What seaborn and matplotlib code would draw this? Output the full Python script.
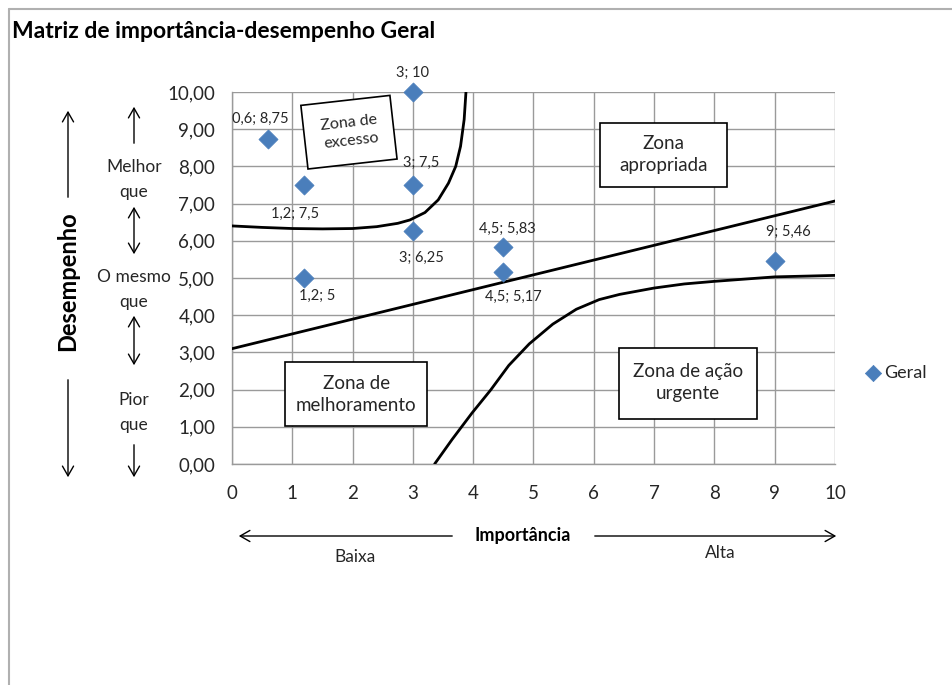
import matplotlib
matplotlib.use("Agg")
import matplotlib.pyplot as plt
from matplotlib.patches import Rectangle, FancyArrowPatch
from matplotlib.lines import Line2D
import seaborn as sns
import pandas as pd

# --- data -------------------------------------------------------------
importancia = [0.6, 1.2, 1.2, 3, 3, 3, 4.5, 4.5, 9]
desempenho = [8.75, 7.5, 5, 10, 7.5, 6.25, 5.83, 5.17, 5.46]

x_ticks = list(range(0, 11))
y_ticks = list(range(0, 11))

# zone boundaries
excesso_x = [0, 0.5, 1.0, 1.5, 2.0, 2.4, 2.75, 2.95, 3.2, 3.42, 3.59, 3.71, 3.79, 3.85, 3.88]
excesso_y = [6.4, 6.36, 6.33, 6.32, 6.33, 6.38, 6.47, 6.56, 6.76, 7.1, 7.55, 8.0, 8.54, 9.26, 10.0]

reta_x = [0, 10]
reta_y = [3.1, 7.07]

urgente_x = [3.36, 3.65, 3.98, 4.29, 4.59, 4.93, 5.32, 5.71, 6.09, 6.43, 7.0, 7.5, 8.0, 9.0, 10.0]
urgente_y = [0.0, 0.66, 1.37, 1.99, 2.65, 3.23, 3.76, 4.16, 4.42, 4.56, 4.73, 4.84, 4.91, 5.03, 5.07]

def fmt(v):
    return f"{v:g}".replace(".", ",")

rotulos = [f"{fmt(a)}; {fmt(b)}" for a, b in zip(importancia, desempenho)]
# label offsets from each marker, in points (dx, dy)
offsets = [(-6, 14), (-7, -21), (9, -13), (0, 14), (6, 16), (6, -19),
           (3, 13), (7, -18), (10, 21)]

df = pd.DataFrame({"Importância": importancia, "Desempenho": desempenho})

# --- style ------------------------------------------------------------
sns.set_style("white")
plt.rcParams["font.family"] = ["Lato", "DejaVu Sans"]
TXT = "#262626"
GRID = "#9a9a9a"

W, H = 953, 685
fig = plt.figure(figsize=(W / 100, H / 100), dpi=100)

def fx(px):
    return px / W

def fy(py):
    return 1 - py / H

ax = fig.add_axes([fx(232), fy(464), fx(835) - fx(232), fy(92) - fy(464)])

# zone curves
for cx, cy in [(excesso_x, excesso_y), (reta_x, reta_y), (urgente_x, urgente_y)]:
    sns.lineplot(x=cx, y=cy, ax=ax, color="black", lw=2, sort=False, zorder=3)
for ln in ax.lines:
    ln.set_solid_joinstyle("round")

# points
sns.scatterplot(data=df, x="Importância", y="Desempenho", ax=ax, marker="D",
                s=95, color="#4a7ebb", edgecolor="#4a7ebb", linewidth=0.5,
                label="Geral", zorder=5, clip_on=False)

for (a, b, t, (dx, dy)) in zip(importancia, desempenho, rotulos, offsets):
    ax.annotate(t, (a, b), xytext=(dx, dy), textcoords="offset points",
                ha="center", va="center", fontsize=10.5, color=TXT, zorder=6)

ax.set_xlim(0, 10)
ax.set_ylim(0, 10)
ax.set_xticks(x_ticks)
ax.set_yticks(y_ticks)
ax.set_xticklabels([str(v) for v in x_ticks])
ax.set_yticklabels([f"{v:.2f}".replace(".", ",") for v in y_ticks])
ax.tick_params(axis="both", labelsize=13.5, colors=GRID, labelcolor=TXT,
               length=5, width=1, direction="out")
ax.tick_params(axis="x", pad=10)
ax.tick_params(axis="y", pad=7)
ax.grid(True, color=GRID, lw=1)
for side in ["top", "right"]:
    ax.spines[side].set_visible(False)
for side in ["left", "bottom"]:
    ax.spines[side].set_color(GRID)
    ax.spines[side].set_linewidth(1)
ax.set_xlabel("")
ax.set_ylabel("")
ax.set_axisbelow(True)

# zone boxes (axis coordinates in data units)
caixas = [
    ((6.10, 7.45), 2.11, 1.72, "Zona\napropriada", (7.15, 8.31)),
    ((6.42, 1.21), 2.29, 1.91, "Zona de ação\nurgente", (7.56, 2.18)),
    ((0.88, 1.02), 2.35, 1.72, "Zona de\nmelhoramento", (2.06, 1.88)),
]
for xy, w, h, txt, c in caixas:
    ax.add_patch(Rectangle(xy, w, h, fc="white", ec="black", lw=1.2, zorder=4))
    ax.text(c[0], c[1], txt, ha="center", va="center", fontsize=13.5,
            color=TXT, linespacing=1.35, zorder=4.5)

# tilted box for the excess zone (figure inches)
ang = 6.4
fig.patches.append(Rectangle((3.08, 5.16), 0.896, 0.64, angle=ang, fc="white",
                             ec="black", lw=1.2, transform=fig.dpi_scale_trans,
                             figure=fig, zorder=4))
fig.text(fx(350), fy(132), "Zona de\nexcesso", ha="center", va="center",
         rotation=ang, fontsize=11.5, color=TXT, linespacing=1.4, zorder=5,
         rotation_mode="anchor")

# legend
leg = ax.legend(loc="center left", bbox_to_anchor=(fx(855), fy(373)),
                bbox_transform=fig.transFigure, frameon=False, fontsize=13,
                handletextpad=0.1, borderpad=0, handlelength=1.0,
                markerscale=0.85)
for t in leg.get_texts():
    t.set_color(TXT)

# title
fig.text(fx(12), fy(31), "Matriz de importância-desempenho Geral",
         ha="left", va="center", fontsize=16.5, fontweight="bold", color="black")

# outer frame
fig.add_artist(Line2D([fx(9), 1], [fy(9), fy(9)], color="#b0b0b0", lw=1.5,
                      transform=fig.transFigure))
fig.add_artist(Line2D([fx(9), fx(9)], [fy(9), 0], color="#b0b0b0", lw=1.5,
                      transform=fig.transFigure))

# annotation arrows in figure pixels
def seta(x0, y0, x1, y1, dupla=False):
    style = "<->" if dupla else "->"
    fig.add_artist(FancyArrowPatch(
        (fx(x0), fy(y0)), (fx(x1), fy(y1)), transform=fig.transFigure,
        arrowstyle=style + ",head_length=7,head_width=4", color="black",
        lw=1, mutation_scale=1))

# vertical axis description
fig.text(fx(68), fy(281), "Desempenho", rotation=90, ha="center", va="center",
         fontsize=17, fontweight="bold", color="black")
seta(68, 200, 68, 108)
seta(68, 377, 68, 480)

col = 134
seta(col, 146, col, 104)
fig.text(fx(col), fy(167), "Melhor", ha="center", va="center", fontsize=12.5, color=TXT)
fig.text(fx(col), fy(192), "que", ha="center", va="center", fontsize=12.5, color=TXT)
seta(col, 204, col, 257, dupla=True)
fig.text(fx(col), fy(277), "O mesmo", ha="center", va="center", fontsize=12.5, color=TXT)
fig.text(fx(col), fy(302), "que", ha="center", va="center", fontsize=12.5, color=TXT)
seta(col, 313, col, 368, dupla=True)
fig.text(fx(col), fy(400), "Pior", ha="center", va="center", fontsize=12.5, color=TXT)
fig.text(fx(col), fy(425), "que", ha="center", va="center", fontsize=12.5, color=TXT)
seta(col, 442, col, 480)

# horizontal axis description
fig.text(fx(523), fy(536), "Importância", ha="center", va="center",
         fontsize=13, fontweight="bold", color="black")
seta(455, 536, 236, 536)
seta(592, 536, 839, 536)
fig.text(fx(355), fy(557), "Baixa", ha="center", va="center", fontsize=12.5, color=TXT)
fig.text(fx(720), fy(553), "Alta", ha="center", va="center", fontsize=12.5, color=TXT)

fig.savefig("out.png", dpi=100)
